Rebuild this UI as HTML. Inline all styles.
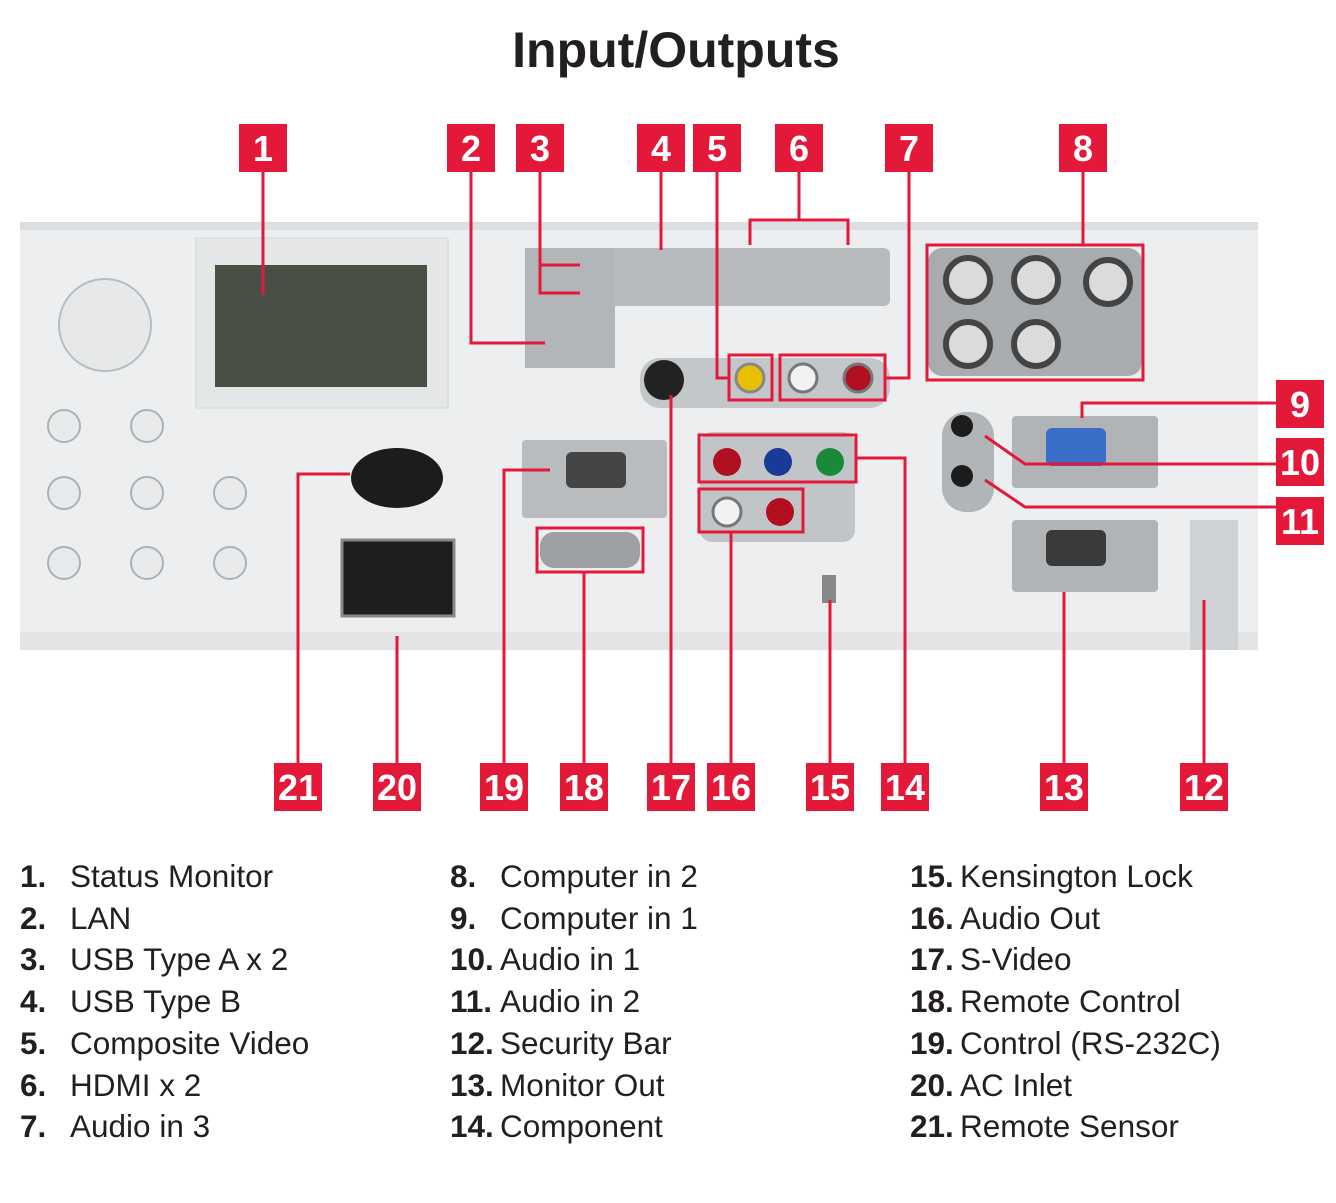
<!DOCTYPE html>
<html><head><meta charset="utf-8"><style>
body{margin:0;background:#fff;width:1336px;height:1203px;overflow:hidden;font-family:"Liberation Sans",Arial,sans-serif}
.t{position:absolute;font-size:31.5px;color:#231f20;white-space:nowrap}
.t b{font-weight:bold;display:inline-block}
</style></head><body>
<svg width="1336" height="1203" style="position:absolute;left:0;top:0" font-family="Liberation Sans, Arial, sans-serif">
<text x="676" y="67" text-anchor="middle" font-size="50" font-weight="bold" fill="#231f20">Input/Outputs</text>
<rect x="20" y="222" width="1238" height="428" fill="#eceeef"/>
<rect x="20" y="222" width="1238" height="8" fill="#dcdfe1"/>
<rect x="20" y="632" width="1238" height="18" fill="#e2e4e6"/>
<rect x="196" y="238" width="252" height="170" fill="#e4e6e7" stroke="#d5d8da"/>
<rect x="215" y="265" width="212" height="122" fill="#4a4f45"/>
<circle cx="105" cy="325" r="46" fill="#e6e8e9" stroke="#b9bcbe" stroke-width="2"/>
<g fill="#e8eaeb" stroke="#aeb1b3" stroke-width="2">
<circle cx="64" cy="426" r="16"/><circle cx="147" cy="426" r="16"/>
<circle cx="64" cy="493" r="16"/><circle cx="147" cy="493" r="16"/><circle cx="230" cy="493" r="16"/>
<circle cx="64" cy="563" r="16"/><circle cx="147" cy="563" r="16"/><circle cx="230" cy="563" r="16"/></g>
<ellipse cx="397" cy="478" rx="46" ry="30" fill="#1c1c1c"/>
<rect x="342" y="540" width="112" height="76" fill="#1e1e1e" stroke="#888" stroke-width="3"/>
<rect x="525" y="248" width="365" height="58" rx="6" fill="#b8bbbd"/>
<rect x="525" y="248" width="90" height="120" fill="#b3b6b8"/>
<rect x="640" y="358" width="250" height="50" rx="20" fill="#c4c7c9"/>
<circle cx="664" cy="380" r="20" fill="#222"/>
<circle cx="750" cy="378" r="14" fill="#e8c000" stroke="#888" stroke-width="3"/>
<circle cx="803" cy="378" r="14" fill="#f2f2f2" stroke="#777" stroke-width="3"/>
<circle cx="858" cy="378" r="14" fill="#b01020" stroke="#777" stroke-width="3"/>
<rect x="522" y="440" width="145" height="78" rx="4" fill="#b9bcbe"/>
<rect x="566" y="452" width="60" height="36" rx="6" fill="#444"/>
<rect x="700" y="432" width="155" height="110" rx="12" fill="#c2c5c7"/>
<circle cx="727" cy="462" r="14" fill="#b01020"/><circle cx="778" cy="462" r="14" fill="#1a3a9a"/><circle cx="830" cy="462" r="14" fill="#1a8a3a"/>
<circle cx="727" cy="512" r="14" fill="#f2f2f2" stroke="#777" stroke-width="3"/><circle cx="780" cy="512" r="14" fill="#b01020"/>
<rect x="540" y="532" width="100" height="36" rx="14" fill="#9ea1a3"/>
<rect x="928" y="248" width="214" height="128" rx="14" fill="#a9acae"/>
<g fill="#d9dbdc" stroke="#444" stroke-width="6"><circle cx="968" cy="280" r="22"/><circle cx="1036" cy="280" r="22"/><circle cx="1108" cy="282" r="22"/><circle cx="968" cy="344" r="22"/><circle cx="1036" cy="344" r="22"/></g>
<rect x="942" y="412" width="52" height="100" rx="24" fill="#b2b5b7"/>
<circle cx="962" cy="426" r="11" fill="#1c1c1c"/><circle cx="962" cy="476" r="11" fill="#1c1c1c"/>
<rect x="1012" y="416" width="146" height="72" rx="4" fill="#b1b4b6"/>
<rect x="1046" y="428" width="60" height="38" rx="6" fill="#3a6ec8"/>
<rect x="1012" y="520" width="146" height="72" rx="4" fill="#b1b4b6"/>
<rect x="1046" y="530" width="60" height="36" rx="6" fill="#3a3a3a"/>
<rect x="1190" y="520" width="48" height="130" fill="#cfd2d4"/>
<rect x="822" y="575" width="14" height="28" fill="#888"/>
<g fill="none" stroke="#e4193a" stroke-width="3">
<path d="M263 172V295"/>
<path d="M471 172V343H545"/>
<path d="M540 172V293H580M540 265H580"/>
<path d="M661 172V250"/>
<path d="M717 172V378H730"/>
<path d="M799 172V220M750 245V220H848V245"/>
<path d="M909 172V378H885"/>
<path d="M1083 172V245"/>
<rect x="927" y="245" width="216" height="135"/>
<rect x="729" y="355" width="43" height="45"/>
<rect x="780" y="355" width="105" height="45"/>
<path d="M1276 403H1082V418"/>
<path d="M1276 464H1025L985 436"/>
<path d="M1276 507H1025L985 480"/>
<path d="M1204 763V600"/>
<path d="M1064 763V592"/>
<path d="M905 763V458H857"/>
<rect x="699" y="435" width="157" height="47"/>
<rect x="699" y="489" width="104" height="43"/>
<path d="M830 763V600"/>
<path d="M731 763V532"/>
<path d="M671 763V395"/>
<path d="M584 763V572"/>
<rect x="537" y="528" width="106" height="44"/>
<path d="M504 763V470H550"/>
<path d="M397 763V636"/>
<path d="M298 763V474H350"/>
</g>
<g fill="#e4193a">
<rect x="239" y="124" width="48" height="48"/><rect x="447" y="124" width="48" height="48"/><rect x="516" y="124" width="48" height="48"/><rect x="637" y="124" width="48" height="48"/><rect x="693" y="124" width="48" height="48"/><rect x="775" y="124" width="48" height="48"/><rect x="885" y="124" width="48" height="48"/><rect x="1059" y="124" width="48" height="48"/>
<rect x="1276" y="380" width="48" height="48"/><rect x="1276" y="438" width="48" height="48"/><rect x="1276" y="497" width="48" height="48"/>
<rect x="274" y="763" width="48" height="48"/><rect x="373" y="763" width="48" height="48"/><rect x="480" y="763" width="48" height="48"/><rect x="560" y="763" width="48" height="48"/><rect x="647" y="763" width="48" height="48"/><rect x="707" y="763" width="48" height="48"/><rect x="806" y="763" width="48" height="48"/><rect x="881" y="763" width="48" height="48"/><rect x="1040" y="763" width="48" height="48"/><rect x="1180" y="763" width="48" height="48"/>
</g>
<g fill="#fff" font-size="36" font-weight="bold" text-anchor="middle">
<text x="263" y="161">1</text><text x="471" y="161">2</text><text x="540" y="161">3</text><text x="661" y="161">4</text><text x="717" y="161">5</text><text x="799" y="161">6</text><text x="909" y="161">7</text><text x="1083" y="161">8</text>
<text x="1300" y="417">9</text><text x="1300" y="475">10</text><text x="1300" y="534">11</text>
<text x="298" y="800">21</text><text x="397" y="800">20</text><text x="504" y="800">19</text><text x="584" y="800">18</text><text x="671" y="800">17</text><text x="731" y="800">16</text><text x="830" y="800">15</text><text x="905" y="800">14</text><text x="1064" y="800">13</text><text x="1204" y="800">12</text>
</g>
</svg>
<div class="t" style="left:20px;top:856px;line-height:41.7px">
<div><b style="width:50px">1.</b>Status Monitor</div><div><b style="width:50px">2.</b>LAN</div><div><b style="width:50px">3.</b>USB Type A x 2</div><div><b style="width:50px">4.</b>USB Type B</div><div><b style="width:50px">5.</b>Composite Video</div><div><b style="width:50px">6.</b>HDMI x 2</div><div><b style="width:50px">7.</b>Audio in 3</div></div>
<div class="t" style="left:450px;top:856px;line-height:41.7px">
<div><b style="width:50px">8.</b>Computer in 2</div><div><b style="width:50px">9.</b>Computer in 1</div><div><b style="width:50px">10.</b>Audio in 1</div><div><b style="width:50px">11.</b>Audio in 2</div><div><b style="width:50px">12.</b>Security Bar</div><div><b style="width:50px">13.</b>Monitor Out</div><div><b style="width:50px">14.</b>Component</div></div>
<div class="t" style="left:910px;top:856px;line-height:41.7px">
<div><b style="width:50px">15.</b>Kensington Lock</div><div><b style="width:50px">16.</b>Audio Out</div><div><b style="width:50px">17.</b>S-Video</div><div><b style="width:50px">18.</b>Remote Control</div><div><b style="width:50px">19.</b>Control (RS-232C)</div><div><b style="width:50px">20.</b>AC Inlet</div><div><b style="width:50px">21.</b>Remote Sensor</div></div>
</body></html>
